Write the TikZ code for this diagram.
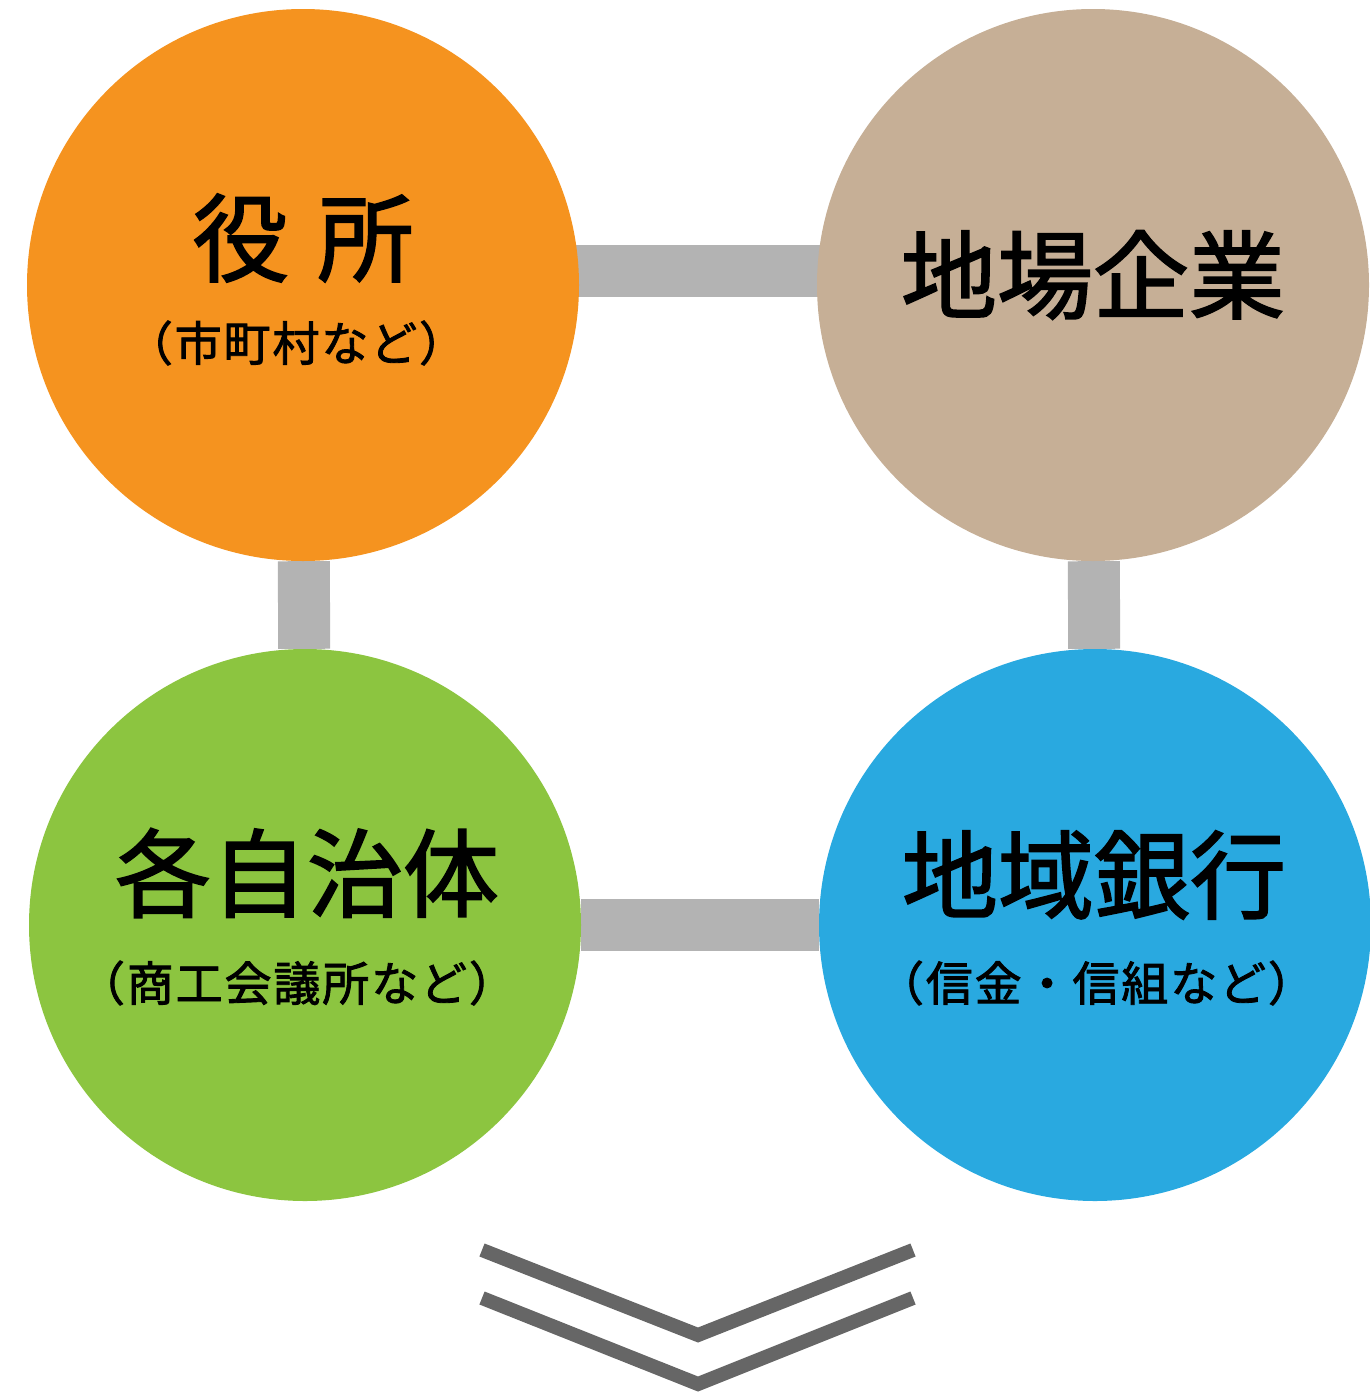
\documentclass[tikz,border=0pt]{standalone}
\usepackage{fontspec}
\newfontfamily\jpb[FakeBold=1.8]{Noto Sans CJK JP}
\newfontfamily\jpm[FakeBold=1.8,LetterSpace=4]{Noto Sans CJK JP}
\definecolor{corange}{HTML}{F5931F}
\definecolor{ctan}{HTML}{C6AF96}
\definecolor{cgreen}{HTML}{8CC540}
\definecolor{cblue}{HTML}{29A9E0}
\definecolor{cbar}{HTML}{B3B3B3}
\definecolor{cchev}{HTML}{666666}
\pgfdeclarelayer{bg}
\pgfsetlayers{bg,main}
\begin{document}
\begin{tikzpicture}[x=1pt,y=-1pt,
  ball/.style={circle,minimum size=552pt,inner sep=0pt},
  bigtxt/.style={font=\jpb\fontsize{96}{96}\selectfont,inner sep=0pt,text=black},
  subtxt/.style={font=\jpm\fontsize{47}{47}\selectfont,inner sep=0pt,text=black},
  bar/.style={line width=52pt,cbar},
  chev/.style={line width=14pt,cchev,line join=miter}]
\useasboundingbox (0,0) rectangle (1370,1392);
\node[ball,fill=corange] (a) at (303,285) {};
\node[ball,fill=ctan] (b) at (1093,285) {};
\node[ball,fill=cgreen] (c) at (305,925) {};
\node[ball,fill=cblue] (d) at (1095,925) {};
\begin{pgfonlayer}{bg}
\draw[bar] ([yshift=14pt]a.center) -- ([yshift=14pt]b.center);
\draw[bar] (b) -- (d);
\draw[bar] (c) -- (d);
\draw[bar] (a) -- (c);
\end{pgfonlayer}
\node[bigtxt] (t1) at (303,238) {役\hspace{0.3em}所};
\node[subtxt] (s1) at (296,343) {（市町村など）};
\node[bigtxt] (t2) at (1093,275) {地場企業};
\node[bigtxt] (t3) at (307,873) {各自治体};
\node[subtxt] (s3) at (297,983) {（商工会議所など）};
\node[bigtxt] (t4) at (1094,875) {地域銀行};
\node[subtxt] (s4) at (1096,983) {（信金・信組など）};
\coordinate (p1) at (482,1250);
\coordinate (p2) at (698,1335);
\coordinate (p3) at (913,1250);
\coordinate (q1) at (482,1298);
\coordinate (q2) at (698,1384);
\coordinate (q3) at (913,1298);
\draw[chev] (p1) -- (p2) -- (p3);
\draw[chev] (q1) -- (q2) -- (q3);
\end{tikzpicture}
\end{document}
